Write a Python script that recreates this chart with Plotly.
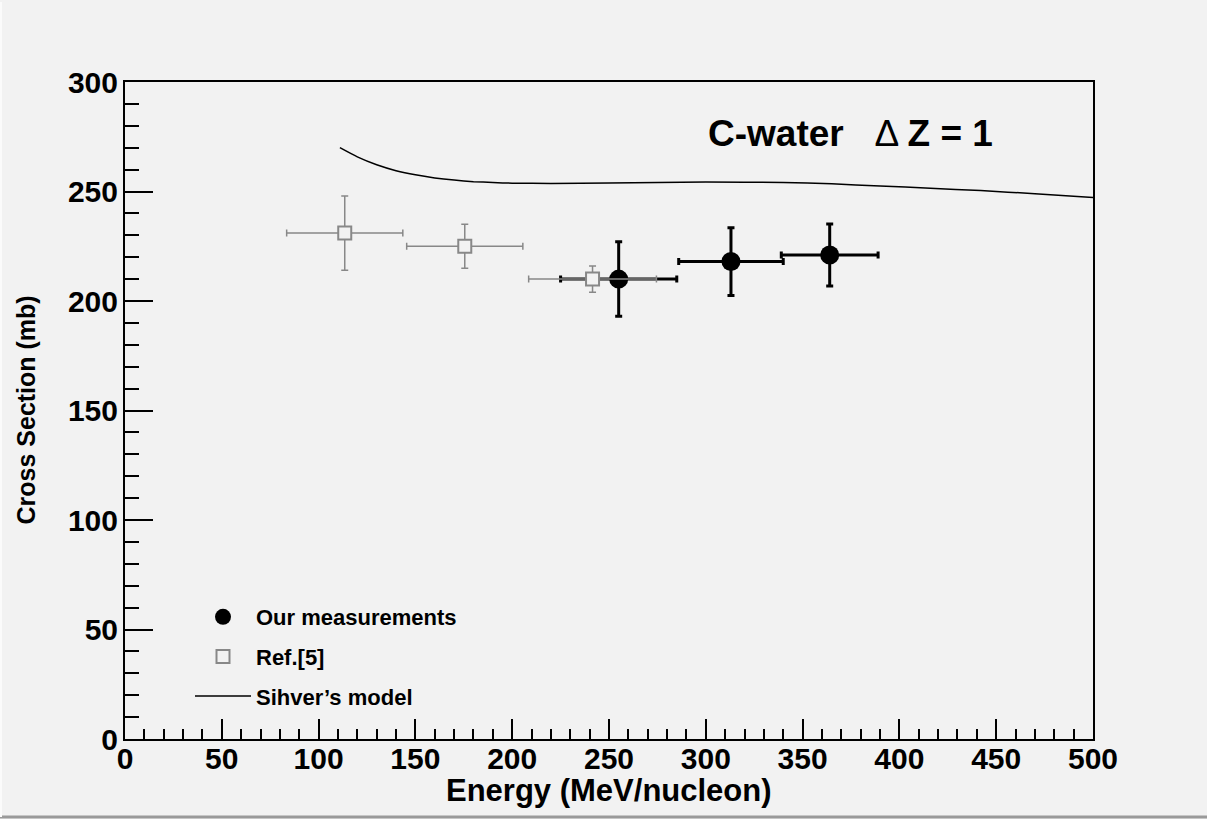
import plotly.graph_objects as go

# --- data -------------------------------------------------------------
our_energy = [255, 313, 364]
our_energy_err = [30, 27, 25]
our_xs = [210, 218, 221]
our_xs_err = [17, 15.5, 14.2]

ref_energy = [113.5, 175.5, 241.5]
ref_energy_err = [30, 30, 33]
ref_xs = [231, 225, 210]
ref_xs_err = [17, 10, 6]

model_energy = [111, 120, 130, 140, 150, 160, 170, 180, 190, 200, 220, 250, 300, 340, 365, 390, 416, 442, 470, 500]
model_xs = [270, 265.8, 262.2, 259.5, 257.6, 256.2, 255.2, 254.5, 254.1, 253.8, 253.7, 253.9, 254.3, 254.1, 253.5, 252.5, 251.5, 250.4, 249, 247.3]

x_ticks = [0, 50, 100, 150, 200, 250, 300, 350, 400, 450, 500]
y_ticks = [0, 50, 100, 150, 200, 250, 300]

BG = "#f2f2f2"
GRAY = "#888888"
FONT = "Liberation Sans, Arial, sans-serif"

fig = go.Figure()

fig.add_trace(go.Scatter(
    x=our_energy, y=our_xs, mode="markers", name="Our measurements",
    legendgroup="a",
    marker=dict(symbol="circle", size=19, color="black"),
    error_x=dict(type="data", array=our_energy_err, color="black", thickness=3, width=3.5),
    error_y=dict(type="data", array=our_xs_err, color="black", thickness=3, width=3.5),
))

fig.add_trace(go.Scatter(
    x=ref_energy, y=ref_xs, mode="markers", name="Ref.[5]",
    legendgroup="b",
    marker=dict(symbol="square", size=13, color=BG, line=dict(color=GRAY, width=2)),
    error_x=dict(type="data", array=ref_energy_err, color=GRAY, thickness=1.5, width=3.5),
    error_y=dict(type="data", array=ref_xs_err, color=GRAY, thickness=1.5, width=3.5),
))

fig.add_trace(go.Scatter(
    x=model_energy, y=model_xs, mode="lines", name="Sihver\u2019s model",
    legendgroup="c",
    line=dict(color="black", width=1.5, shape="spline", smoothing=0.5),
))

# in-plot label
fig.add_annotation(
    x=(995 - 125) / 968, y=(739 - 133) / 657, xref="paper", yref="paper",
    xanchor="right", yanchor="middle",
    text="<b>C-water</b>\u00a0\u00a0\u00a0\u0394 <b>Z = 1</b>",
    showarrow=False, font=dict(family=FONT, size=37, color="black"),
)

# axis titles
fig.add_annotation(
    x=0.5, y=(739 - 790) / 657, xref="paper", yref="paper",
    xanchor="center", yanchor="middle", showarrow=False,
    text="<b>Energy (MeV/nucleon)</b>", font=dict(family=FONT, size=31, color="black"),
)
fig.add_annotation(
    x=(25 - 125) / 968, y=0.5, xref="paper", yref="paper",
    xanchor="center", yanchor="middle", showarrow=False, textangle=-90,
    text="<b>Cross Section (mb)</b>", font=dict(family=FONT, size=25, color="black"),
)

# canvas bevel border
fig.add_shape(type="line", xref="paper", yref="paper",
              x0=-125 / 968, x1=1082 / 968, y0=-78 / 657, y1=-78 / 657,
              line=dict(color="#9a9a9a", width=3))
fig.add_shape(type="line", xref="paper", yref="paper",
              x0=-124 / 968, x1=-124 / 968, y0=-78 / 657, y1=737 / 657,
              line=dict(color="#fbfbfb", width=2))

fig.update_layout(
    width=1207, height=819,
    paper_bgcolor=BG, plot_bgcolor=BG,
    margin=dict(l=125, r=114, t=82, b=80),
    font=dict(family=FONT, color="black"),
    showlegend=True,
    legend=dict(
        x=(190 - 125) / 968, y=(739 - 596) / 657, xanchor="left", yanchor="top",
        bgcolor="rgba(0,0,0,0)", borderwidth=0,
        font=dict(family=FONT, size=22, weight="bold"),
        traceorder="grouped", tracegroupgap=8, itemwidth=56,
    ),
    xaxis=dict(
        range=[0, 500], tickmode="array", tickvals=x_ticks,
        ticks="inside", ticklen=20, tickwidth=1.5, tickcolor="black",
        minor=dict(dtick=10, ticks="inside", ticklen=10, tickwidth=1.5, tickcolor="black"),
        showline=True, linecolor="black", linewidth=2, mirror=True,
        showgrid=False, zeroline=False, ticklabelstandoff=-8,
        tickfont=dict(family=FONT, size=30, weight="bold"),
    ),
    yaxis=dict(
        range=[0, 300], tickmode="array", tickvals=y_ticks,
        ticks="inside", ticklen=28, tickwidth=1.5, tickcolor="black",
        minor=dict(dtick=10, ticks="inside", ticklen=14, tickwidth=1.5, tickcolor="black"),
        showline=True, linecolor="black", linewidth=2, mirror=True,
        showgrid=False, zeroline=False, ticklabelstandoff=-1,
        tickfont=dict(family=FONT, size=30, weight="bold"),
    ),
)

fig.write_html(
    "out.html",
    config={"displayModeBar": False},
    post_script="document.body.style.margin='0';document.body.style.overflow='hidden';",
)
